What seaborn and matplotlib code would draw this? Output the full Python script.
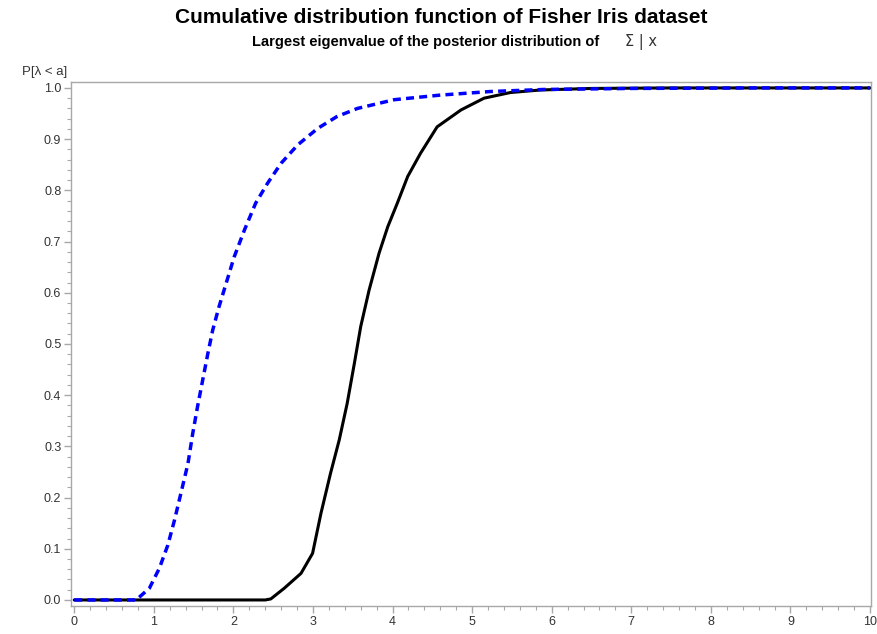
import numpy as np
import pandas as pd
import matplotlib
matplotlib.use("Agg")
import matplotlib.pyplot as plt
from matplotlib.ticker import MultipleLocator
import seaborn as sns

# values
blue_x = [0.0, 0.5, 0.78, 0.80, 0.945, 1.07, 1.176, 1.26, 1.34, 1.43, 1.49, 1.55, 1.615,
          1.68, 1.74, 1.82, 1.91, 2.01, 2.14, 2.28, 2.43, 2.60, 2.81, 3.06, 3.30, 3.56,
          4.02, 4.60, 5.23, 5.90, 7.0, 8.5, 10.0]
blue_y = [0.0, 0.0, 0.0, 0.003, 0.023, 0.062, 0.107, 0.156, 0.208, 0.267, 0.326, 0.378, 0.43,
          0.482, 0.527, 0.573, 0.619, 0.67, 0.723, 0.775, 0.814, 0.853, 0.889, 0.921, 0.944, 0.96,
          0.977, 0.986, 0.993, 0.997, 0.999, 1.0, 1.0]

black_x = [0.0, 2.40, 2.47, 2.64, 2.85, 2.995, 3.10, 3.22, 3.33, 3.43, 3.52, 3.60, 3.705,
           3.83, 3.94, 4.06, 4.19, 4.35, 4.56, 4.86, 5.15, 5.48, 5.86, 6.5, 7.5, 10.0]
black_y = [0.0, 0.0, 0.002, 0.023, 0.052, 0.091, 0.169, 0.247, 0.3125, 0.384, 0.462, 0.534, 0.605,
           0.677, 0.729, 0.775, 0.827, 0.872, 0.924, 0.957, 0.98, 0.991, 0.996, 0.999, 1.0, 1.0]

x_ticks = np.arange(0, 11, 1)
y_ticks = np.arange(0, 1.01, 0.1)

sns.set_style("white")
plt.rcParams['font.family'] = ['Liberation Sans', 'DejaVu Sans']

fig = plt.figure(figsize=(8.77, 6.34), dpi=100)
ax = fig.add_axes([0.081, 0.044, 0.912, 0.827])

sns.lineplot(x=black_x, y=black_y, ax=ax, color="black", linewidth=2.2)
sns.lineplot(x=blue_x, y=blue_y, ax=ax, color="#0000ff", linewidth=2.5,
             linestyle=(0, (2.3, 1.5)))

ax.set_xlim(-0.04, 10.01)
ax.set_ylim(-0.012, 1.012)
ax.set_xticks(x_ticks)
ax.set_yticks(y_ticks)
ax.set_xticklabels([str(v) for v in x_ticks])
ax.set_yticklabels([f"{v:.1f}" for v in y_ticks])
ax.xaxis.set_minor_locator(MultipleLocator(0.2))
ax.yaxis.set_minor_locator(MultipleLocator(0.02))

gray = "#a8a8a8"
for s in ax.spines.values():
    s.set_color(gray)
    s.set_linewidth(1.0)
ax.tick_params(which="major", direction="out", length=5, width=1, color=gray,
               labelsize=9, labelcolor="#333333", bottom=True, left=True, pad=2)
ax.tick_params(which="minor", direction="out", length=3, width=0.8, color=gray,
               bottom=True, left=True)
ax.set_xlabel("")
ax.set_ylabel("")

fig.text(0.503, 0.972, "Cumulative distribution function of Fisher Iris dataset",
         ha="center", va="center", fontsize=15, fontweight="bold", color="black")
fig.text(0.683, 0.933, "Largest eigenvalue of the posterior distribution of",
         ha="right", va="center", fontsize=10.5, fontweight="bold", color="black")
fig.text(0.713, 0.933, "Σ | x", ha="left", va="center", fontsize=10.5,
         color="#333333", family=['DejaVu Sans'])
fig.text(0.025, 0.886, "P[λ < a]", ha="left", va="center", fontsize=9.5, color="#333333")

fig.savefig("out.png", dpi=100)
